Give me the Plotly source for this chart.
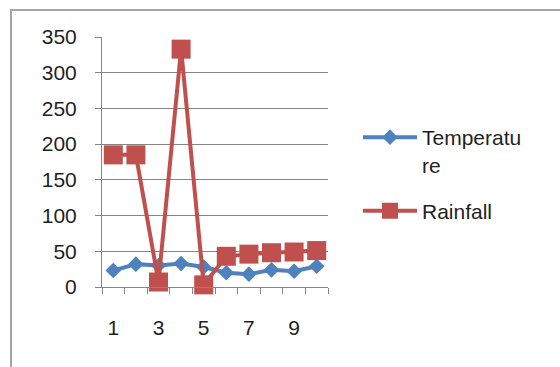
import plotly.graph_objects as go

# Monthly readings, periods 1-10
periods = [1, 2, 3, 4, 5, 6, 7, 8, 9, 10]
temperature = [23, 32, 30, 33, 28, 20, 18, 24, 22, 29]
rainfall = [185, 185, 7, 333, 3, 43, 46, 48, 49, 51]
x_labels = ["1", "3", "5", "7", "9"]
x_label_pos = [1, 3, 5, 7, 9]
y_ticks = [0, 50, 100, 150, 200, 250, 300, 350]

BLUE = "#4F81BD"
RED = "#C0504D"
GRID = "#868686"
TEXT = "#1F1F1F"
FONT = "Liberation Sans"

# plot area in pixels (canvas 560 x 367)
W, H = 560, 367
L, R, T, B = 102, 328, 37, 287


def px_x(p):
    return (p - L) / (R - L)


def px_y(p):
    return (B - p) / (B - T)


fig = go.Figure()
fig.add_trace(go.Scatter(
    x=periods, y=temperature, name="Temperatu<br>re", mode="lines+markers",
    line=dict(color=BLUE, width=4),
    marker=dict(symbol="diamond", size=12, color=BLUE),
    legendgroup="t", cliponaxis=False,
))
fig.add_trace(go.Scatter(
    x=periods, y=rainfall, name="Rainfall", mode="lines+markers",
    line=dict(color=RED, width=4),
    marker=dict(symbol="square", size=19, color=RED),
    legendgroup="r", cliponaxis=False,
))
# invisible trace carrying the category labels on the secondary x axis
fig.add_trace(go.Scatter(x=periods, y=rainfall, xaxis="x2", mode="none",
                         showlegend=False, hoverinfo="skip"))

fig.update_layout(
    width=W, height=H,
    margin=dict(l=L, r=W - R, t=T, b=H - B),
    paper_bgcolor="white", plot_bgcolor="white",
    font=dict(family=FONT, size=21, color=TEXT),
    showlegend=True,
    legend=dict(x=px_x(358), y=px_y(117), xanchor="left", yanchor="top",
                font=dict(size=21, color=TEXT), itemwidth=54, valign="top",
                tracegroupgap=16, bgcolor="rgba(0,0,0,0)"),
    xaxis=dict(range=[0.5, 10.5], tickvals=[i + 0.5 for i in range(0, 11)],
               showticklabels=False, ticks="outside", ticklen=6, tickcolor=GRID,
               showline=True, linecolor=GRID, linewidth=1, showgrid=False,
               zeroline=False),
    xaxis2=dict(range=[0.5, 10.5], overlaying="x", anchor="y", side="bottom",
                tickvals=x_label_pos, ticktext=x_labels, ticks="",
                showline=False, showgrid=False, zeroline=False,
                ticklabelstandoff=26),
    yaxis=dict(range=[0, 350], tickvals=y_ticks, ticks="outside", ticklen=6,
               tickcolor=GRID, showline=True, linecolor=GRID, linewidth=1,
               showgrid=True, gridcolor=GRID, gridwidth=1, zeroline=False,
               ticklabelstandoff=14),
    shapes=[dict(type="rect", xref="paper", yref="paper",
                 x0=px_x(11), x1=px_x(W + 20), y0=px_y(H + 20), y1=px_y(10),
                 line=dict(color="#A6A6A6", width=2), fillcolor="rgba(0,0,0,0)",
                 layer="below")],
)

fig.write_html("out.html")
